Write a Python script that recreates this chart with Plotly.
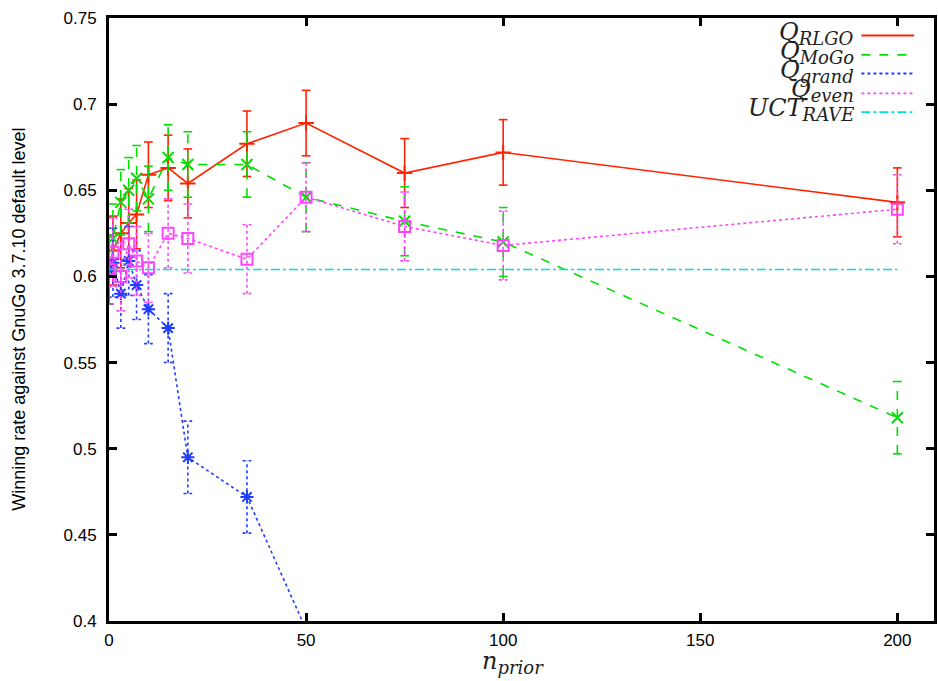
import plotly.graph_objects as go

# ---------------- data ----------------
n_prior = [0, 1, 3, 5, 7, 10, 15, 20, 35, 50, 75, 100, 200]

q_rlgo = [0.604, 0.615, 0.625, 0.631, 0.636, 0.659, 0.663, 0.654, 0.677, 0.689, 0.660, 0.672, 0.643]
q_rlgo_err = [0.020, 0.020, 0.020, 0.020, 0.020, 0.019, 0.019, 0.020, 0.019, 0.019, 0.020, 0.019, 0.020]

q_mogo = [0.604, 0.622, 0.643, 0.650, 0.657, 0.645, 0.669, 0.665, 0.665, 0.646, 0.632, 0.620, 0.518]
q_mogo_err = [0.020, 0.020, 0.019, 0.019, 0.019, 0.019, 0.019, 0.019, 0.019, 0.020, 0.020, 0.020, 0.021]

n_prior_grand = [0, 1, 3, 5, 7, 10, 15, 20, 35, 50]
q_grand = [0.604, 0.608, 0.590, 0.609, 0.595, 0.581, 0.570, 0.495, 0.472, 0.395]
q_grand_err = [0.020, 0.020, 0.020, 0.020, 0.020, 0.020, 0.020, 0.021, 0.021, 0.0]

q_even = [0.604, 0.614, 0.600, 0.619, 0.609, 0.605, 0.625, 0.622, 0.610, 0.646, 0.629, 0.618, 0.639]
q_even_err = [0.020, 0.020, 0.020, 0.020, 0.020, 0.020, 0.020, 0.020, 0.020, 0.020, 0.020, 0.020, 0.020]

uct_rave_x = [0, 200]
uct_rave = [0.604, 0.604]

y_ticks = [0.4, 0.45, 0.5, 0.55, 0.6, 0.65, 0.7, 0.75]
y_tick_text = ["0.4", "0.45", "0.5", "0.55", "0.6", "0.65", "0.7", "0.75"]
x_ticks = [0, 50, 100, 150, 200]

# ---------------- style ----------------
RED = "#ff2400"
GREEN = "#00e000"
BLUE = "#1f3dff"
MAGENTA = "#ff44ff"
CYAN = "#00e0e0"
CAP = 1.1  # half-width of error-bar caps in x units


def err_path(xs, ys, es):
    px, py = [], []
    for x, y, e in zip(xs, ys, es):
        if e <= 0:
            continue
        px += [x, x, None, x - CAP, x + CAP, None, x - CAP, x + CAP, None]
        py += [y - e, y + e, None, y - e, y - e, None, y + e, y + e, None]
    return px, py


fig = go.Figure()

series = [
    ("rlgo", n_prior, q_rlgo, q_rlgo_err, RED, "solid", "cross-thin", 11),
    ("mogo", n_prior, q_mogo, q_mogo_err, GREEN, "dash", "x-thin", 11),
    ("grand", n_prior_grand, q_grand, q_grand_err, BLUE, "dot", "asterisk", 11),
    ("even", n_prior, q_even, q_even_err, MAGENTA, "dot", "square-open", 11),
]

for name, xs, ys, es, col, dash, sym, size in series:
    ex, ey = err_path(xs, ys, es)
    fig.add_trace(go.Scatter(x=ex, y=ey, mode="lines",
                             line=dict(color=col, width=1.6, dash=dash),
                             showlegend=False, hoverinfo="skip"))
    fig.add_trace(go.Scatter(x=xs, y=ys, mode="lines+markers",
                             line=dict(color=col, width=1.6, dash=dash),
                             marker=dict(symbol=sym, size=size, color=col,
                                         line=dict(color=col, width=2)),
                             showlegend=False, name=name))

fig.add_trace(go.Scatter(x=uct_rave_x, y=uct_rave, mode="lines",
                         line=dict(color=CYAN, width=1.6, dash="dashdot"),
                         showlegend=False, name="uct"))

# ---------------- custom legend (text left of sample, like gnuplot) ----------------
SUB = '<span style="font-size:18px">%s</span>'
legend_items = [
    ("<i>Q<sub>" + SUB % "RLGO" + "</sub></i>", RED, "solid"),
    ("<i>Q<sub>" + SUB % "MoGo" + "</sub></i>", GREEN, "dash"),
    ("<i>Q<sub>" + SUB % "grand" + "</sub></i>", BLUE, "dot"),
    ("<i>Q<sub>" + SUB % "even" + "</sub></i>", MAGENTA, "dot"),
    ("<i>UCT<sub>" + SUB % "RAVE" + "</sub></i>", CYAN, "dashdot"),
]
rows = [0.975, 0.943, 0.912, 0.879, 0.848]
for (label, col, dash), ry in zip(legend_items, rows):
    fig.add_annotation(xref="paper", yref="paper", x=0.906, y=ry,
                       text=label, showarrow=False, xanchor="right", yanchor="middle",
                       font=dict(family="DejaVu Serif", size=24, color="#222"))
    fig.add_shape(type="line", xref="paper", yref="paper",
                  x0=0.912, x1=0.976, y0=ry - 0.004, y1=ry - 0.004,
                  line=dict(color=col, width=1.8, dash=dash))

# axis titles
fig.add_annotation(xref="paper", yref="paper", x=-0.11, y=0.5,
                   text="Winning rate against GnuGo 3.7.10 default level",
                   textangle=-90, showarrow=False, xanchor="center", yanchor="middle",
                   font=dict(family="Liberation Sans", size=18, color="black"))
fig.add_annotation(xref="paper", yref="paper", x=0.49, y=-0.068,
                   text="<i>n<sub>" + SUB % "prior" + "</sub></i>", showarrow=False,
                   xanchor="center", yanchor="middle",
                   font=dict(family="DejaVu Serif", size=24, color="#222"))

axis_common = dict(showline=True, linecolor="black", linewidth=3, mirror="ticks",
                   ticks="inside", ticklen=8, tickwidth=3, tickcolor="black",
                   showgrid=False, zeroline=False,
                   tickfont=dict(family="Liberation Sans", size=17, color="black"))

fig.update_layout(
    width=938, height=681,
    margin=dict(l=109, r=1, t=18, b=60),
    paper_bgcolor="white", plot_bgcolor="white",
    xaxis=dict(range=[0, 209.3], tickvals=x_ticks, ticklabelstandoff=2, **axis_common),
    yaxis=dict(range=[0.4, 0.75], tickvals=y_ticks, ticktext=y_tick_text,
               ticklabelstandoff=6, **axis_common),
    showlegend=False,
)

fig.write_html("out.html", config={"displayModeBar": False},
               post_script="document.body.style.margin='0';")
